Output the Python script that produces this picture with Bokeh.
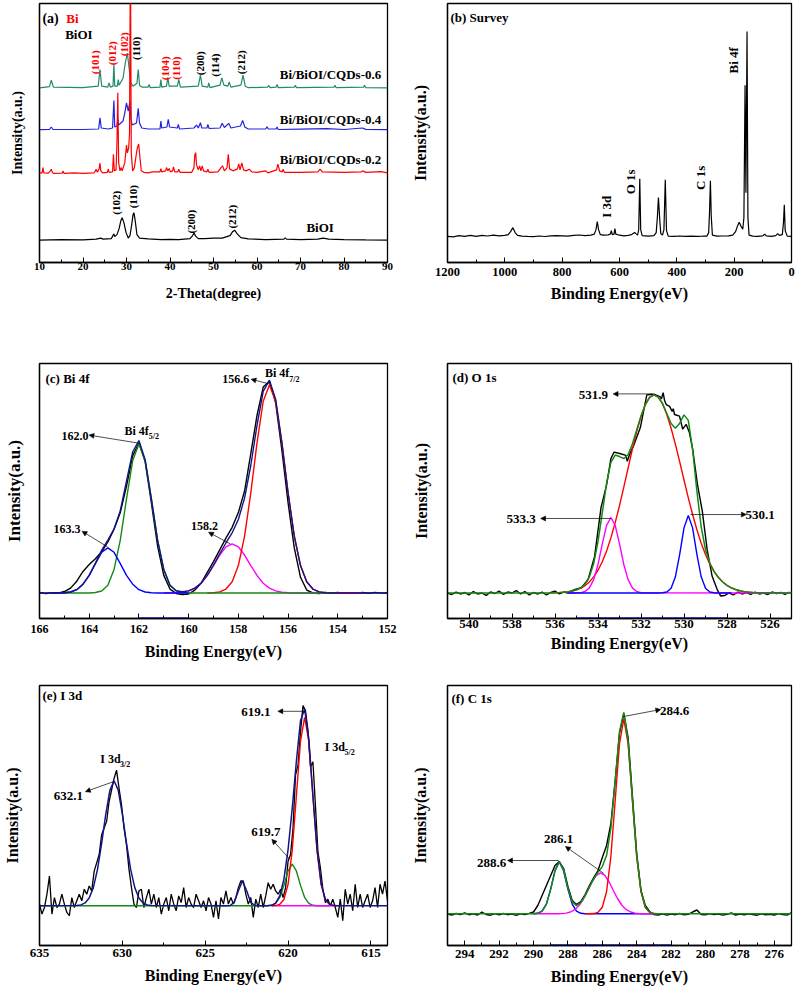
import numpy as np
from bokeh.plotting import figure
from bokeh.models import Range1d, Label, Arrow, NormalHead, SingleIntervalTicker, FixedTicker
from bokeh.layouts import gridplot
from bokeh.embed import file_html
from bokeh.resources import INLINE

FONT = "Liberation Serif"

# ---------------- (a) XRD ----------------
a_theta_bioi = [10, 15, 20, 23.0, 24.1, 24.6, 26.5, 27.1, 27.3, 27.8, 28.3, 28.7, 29.0, 29.4, 29.9, 30.4, 30.8, 31.2, 31.5, 31.7,
                32.0, 32.4, 33.0, 35, 38, 40, 42, 44.6, 45.2, 45.5, 45.9, 46.5, 48, 50, 52, 53.8, 54.4, 54.9, 55.5, 56.3,
                58, 62, 66.2, 66.5, 66.8, 70, 74, 75.2, 76.5, 80, 85, 90]
a_int_bioi = [22.5, 23, 22.8, 23.5, 24.5, 23.5, 24, 28.7, 26, 28, 34, 42, 45, 40, 30, 24.5, 27, 38, 48, 50,
              42, 28, 24.5, 23.7, 23, 23.3, 23, 24, 27, 29.7, 26.5, 24, 24, 24.5, 24.5, 27, 31, 32.3, 28.5, 25,
              23.7, 23, 23.5, 24.7, 23.5, 23, 23.5, 24.5, 23.5, 23, 22.7, 22.5]

a_theta_02 = [10.0, 10.6, 10.8, 11.0, 12.0, 12.5, 12.7, 12.9, 13.2, 15.2, 15.4, 15.6, 18, 20, 22.5, 22.8, 23.0, 23.3, 23.7, 23.9,
              24.1, 24.5, 25.6, 25.8, 26.0, 26.8, 27.0, 27.2, 27.6, 27.8, 28.0, 28.2, 28.5, 28.8, 29.0, 29.6, 30.0, 30.2, 30.5, 30.7,
              30.9, 31.1, 31.4, 31.8, 32.3, 32.5, 32.8, 33.1, 33.4, 34, 35, 36, 37.7, 37.9, 38.1, 39.0, 39.2, 39.5, 39.8, 40.1,
              40.6, 40.8, 41.1, 41.8, 42.0, 42.3, 45.0, 45.5, 45.7, 45.9, 46.1, 46.5, 46.8, 47.1, 47.4, 47.7, 48.5, 48.7, 49.0, 51.0,
              51.7, 52.1, 52.5, 53.1, 53.4, 53.7, 54.5, 55.5, 55.8, 56.1, 56.5, 56.9, 57.5, 58.2, 58.8, 60, 62.0, 62.5, 64.5, 64.8,
              65.2, 65.8, 66.0, 66.3, 70, 74.0, 74.5, 75.0, 80, 84.0, 84.3, 85, 88.5, 90]
a_int_02 = [90, 90, 95.3, 90, 89.7, 92, 93.7, 91, 89.5, 89.7, 92, 89.5, 90, 89.5, 90, 91.5, 93.7, 90.5, 94, 99.7,
            92, 90, 90.5, 93.7, 90.5, 91, 108.7, 92, 93, 120, 170.3, 100, 92, 95.3, 92, 100, 118, 110, 115, 130,
            320, 110, 92, 95, 110, 115.3, 119, 105, 92, 90.5, 90, 91, 91, 94.3, 91, 92, 95.3, 92, 94.3, 91,
            92, 96, 91, 91, 93.7, 90.5, 90.5, 95, 108, 110.3, 98, 93, 97, 92, 97, 92, 91, 93.7, 90.5, 91,
            95, 97, 92, 95, 108.7, 94, 92, 94, 99, 93, 100, 93, 92, 93.7, 91, 90.5, 92, 90, 93, 98.7,
            92, 91, 93.7, 90.5, 90.5, 91, 93.7, 91, 90.5, 91, 92, 90.5, 91.3, 90]

a_theta_04 = [10, 12.3, 12.7, 13.1, 20, 23.6, 23.9, 24.2, 25.8, 26.8, 27.1, 27.3, 27.8, 28.0, 28.2, 29.2, 29.6, 30.0, 30.4, 30.8,
              31.0, 31.3, 32.3, 32.7, 33.0, 33.5, 35, 37.7, 37.9, 38.1, 39.3, 39.6, 39.9, 41.7, 41.9, 42.2, 45.5, 46.1, 46.5, 47.0,
              47.3, 48.5, 48.7, 49.0, 51.5, 52.0, 52.5, 53.5, 54.0, 56.2, 56.7, 57.2, 58, 62.0, 62.3, 62.6, 64.4, 64.6, 64.9, 70,
              76, 80, 84.3, 85, 90]
a_int_04 = [133.3, 133.5, 136, 133.5, 133.5, 134, 145.3, 135, 134, 135, 162.7, 136, 137, 143.7, 138, 142, 150, 160.3, 152, 162,
            145, 138, 140, 154.7, 140, 135, 134, 134, 142, 135, 136, 143.7, 136, 135, 138.7, 134, 135, 138, 135, 140.3,
            135, 135, 138.7, 134.5, 135, 139.7, 135.5, 139.7, 135, 137, 142.7, 136, 134, 134, 136.3, 134, 134, 136, 133.5, 133.8,
            134.3, 133.5, 135, 133.6, 133.3]

a_theta_06 = [10, 12.3, 12.7, 13.2, 20, 23.5, 23.9, 24.3, 25.7, 26.0, 26.3, 26.9, 27.1, 27.3, 27.9, 28.1, 28.3, 29.2, 29.7, 30.2,
              30.6, 31.0, 31.5, 32.4, 32.7, 33.0, 33.5, 35.0, 35.2, 35.5, 37.7, 37.9, 38.1, 39.2, 39.5, 39.8, 41.7, 42.0, 42.4, 46.5,
              47.0, 47.4, 48.7, 48.9, 49.2, 51.5, 51.9, 52.4, 53.3, 53.6, 54.0, 56.3, 56.8, 57.3, 58, 62.4, 62.7, 63.0, 64.4, 64.6,
              64.9, 68.6, 68.8, 69.1, 77.7, 77.9, 78.2, 84.5, 84.7, 85.0, 90]
a_int_06 = [175.3, 176.5, 183, 176, 175.5, 177, 193.7, 177, 176, 180.3, 176, 177, 198.7, 177, 177, 183.7, 178, 185, 200, 210.3,
            195, 180, 177, 180, 193.7, 178, 176, 176, 178.7, 175.5, 176, 183.7, 176, 177, 186, 177, 177, 183.7, 176, 177,
            188, 177, 176, 180.3, 175.5, 178, 185.3, 178, 177, 181.3, 176, 178, 188, 177, 175.5, 176, 177.7, 175.5, 176, 178.7,
            175.5, 176, 178, 175.5, 176, 178, 175.5, 176, 178, 175.5, 175.3]

# ---------------- (b) Survey ----------------
b_be = [1200, 1180, 1160, 1140, 1120, 1100, 1080, 1060, 1040, 1020, 1000, 988, 980, 972, 964, 956, 940, 920, 900, 880,
        860, 840, 820, 800, 780, 760, 740, 720, 700, 688, 682, 677.6, 673, 667, 655, 640, 632, 628.5, 625, 619,
        616, 613, 600, 585, 570, 558, 550, 547.5, 543, 537, 533, 529.3, 526, 521, 500, 480, 472, 468, 464.2, 460,
        456, 450, 445, 440.3, 436, 430, 410, 390, 370, 350, 330, 310, 295, 289, 286, 282.9, 280, 276, 260, 240,
        220, 205, 195, 188, 182.5, 176, 170, 166, 162, 159, 155.1, 152, 148, 135, 120, 100, 93.5, 88, 70, 55,
        48, 42, 32, 28, 25.1, 22, 15, 0]
b_int = [26.3, 25.8, 26.9, 26.2, 27.2, 26.3, 27.3, 26.6, 27.5, 26.7, 27.2, 28, 31, 35, 30, 27.3, 26.5, 26.2, 26, 26.6,
         26.1, 26.7, 27, 26.8, 26.4, 27.2, 27.6, 27, 27.5, 28.5, 33, 41, 33, 28, 27.4, 27.8, 28.5, 32, 28, 28.5,
         34, 28.5, 27.4, 26.8, 27.3, 28, 29.5, 30.3, 29, 27.5, 33, 84, 33, 27, 26.5, 27, 30, 45, 65.3, 45,
         29, 27.5, 33, 83, 32, 26.5, 26.3, 26.6, 26.2, 26.5, 26.3, 26.4, 26.5, 30, 50, 82, 47, 27.5, 26.5, 26.6,
         26.8, 27.5, 31, 37, 40.3, 36.3, 33.5, 45, 178, 70, 232, 45, 27.5, 26.5, 26.3, 26.8, 28.5, 26.8, 26.3, 27,
         29, 27.2, 28, 40, 58, 32, 26.5, 26.3]

# ---------------- (c) Bi 4f ----------------
c_raw_int = [26.5, 25.5, 26.2, 25.8, 27.5, 31, 38, 48, 55, 61, 68, 78, 91, 108, 135, 166, 179, 160, 118, 74,
             44, 30, 25.5, 24.5, 25, 29, 36, 47, 58, 70, 82, 93, 108, 130, 168, 207, 236, 242, 220, 172,
             118, 72, 42, 29, 26, 25.5, 26.5, 25.8, 26.6, 25.6, 26.4, 25.7, 26.5, 25.8, 26.6, 25.9, 26.3]
c_raw_be = np.linspace(166, 152, len(c_raw_int))
c_env_be = [166, 165.5, 165.25, 165.0, 164.75, 164.5, 164.25, 164.0, 163.75, 163.5, 163.25, 163.0, 162.75, 162.5, 162.25, 162.0,
            161.75, 161.5, 161.25, 161.0, 160.75, 160.5, 160.25, 160.0, 159.75, 159.5, 159.25, 159.0, 158.75, 158.5, 158.25,
            158.0, 157.75, 157.5, 157.25, 157.0, 156.75, 156.5, 156.25, 156.0, 155.75, 155.5, 155.25, 155.0, 154.75, 154.5,
            154.25, 152]
c_env_int = [26, 26, 26, 26.3, 27, 29.4, 35, 44, 56.5, 69.5, 80, 91.5, 110, 140, 170, 181.4,
             162, 122.3, 80, 50, 34, 28.3, 27.3, 28.2, 31, 36, 44, 54.3, 66, 77, 87.4,
             101, 122.7, 156, 197, 231.5, 243, 223.7, 179.8, 128.3, 84, 54, 37.4, 30, 27.2, 26.3,
             26, 26]
c_g_be = [165.5, 164.0, 163.75, 163.5, 163.25, 163.0, 162.75, 162.5, 162.25, 162.0, 161.75, 161.5, 161.25, 161.0, 160.75, 160.5, 160.25, 160.0, 154.0]
c_g_int = [26, 26, 26.5, 28, 34, 50, 80, 122, 161, 178, 161, 122, 80, 50, 34, 28, 26.5, 26, 26]
c_b_be = [165.5, 165.25, 165.0, 164.75, 164.5, 164.25, 164.0, 163.75, 163.5, 163.25, 163.0, 162.75, 162.5, 162.25, 162.0, 161.75, 161.5, 161.25, 160.0]
c_b_int = [26, 26, 26.3, 27, 29.4, 35, 44, 56, 67.5, 72, 67.5, 56, 44, 35, 29.4, 27, 26.3, 26, 26]
c_m_be = [161.0, 160.5, 160.25, 160.0, 159.75, 159.5, 159.25, 159.0, 158.75, 158.5, 158.25, 158.0, 157.75, 157.5, 157.25, 157.0, 156.75, 156.5, 156.25, 156.0, 155.75, 153.0]
c_m_int = [26, 26.3, 26.8, 28.2, 31, 36, 44, 54, 64.7, 73, 76, 73, 64.7, 54, 44, 36, 31, 28.2, 26.8, 26.3, 26, 26]
c_r_be = [159.25, 159.0, 158.75, 158.5, 158.25, 158.0, 157.75, 157.5, 157.25, 157.0, 156.75, 156.5, 156.25, 156.0, 155.75, 155.5, 155.25, 155.0, 154.75, 154.5, 154.25, 153.0]
c_r_int = [26, 26.3, 27.2, 30, 37.4, 54, 84, 128, 179, 221.5, 238, 221.5, 179, 128, 84, 54, 37.4, 30, 27.2, 26.3, 26, 26]
c_bg_be = [162, 160]
c_bg_int = [0.6, 0.6]

# ---------------- (d) O 1s ----------------
d_raw_be = [541.0, 540.8, 540.6, 540.4, 540.2, 540.0, 539.8, 539.6, 539.4, 539.2, 539.0, 538.8, 538.6, 538.4, 538.2, 538.0, 537.8, 537.6, 537.4, 537.2,
            537.0, 536.8, 536.6, 536.4, 536.2, 536.0, 535.8, 535.6, 535.4, 535.2, 535.07, 534.77, 534.46, 534.16, 533.86, 533.6, 533.4, 533.25, 532.95, 532.7,
            532.64, 532.5, 532.34, 532.03, 531.73, 531.4, 531.12, 531.05, 530.97, 530.9, 530.82, 530.67, 530.55, 530.5, 530.44, 530.21, 530.06, 529.9, 529.75, 529.6,
            529.37, 529.15, 528.92, 528.69, 528.46, 528.3, 528.1, 527.9, 527.7, 527.5, 527.3, 527.1, 526.9, 526.7, 526.5, 526.3, 526.1, 525.9, 525.7, 525.5,
            525.3, 525.1]
d_raw_int = [26, 24.5, 27, 25, 26.5, 24, 27.5, 25, 26, 23.5, 27, 25.5, 28, 24.5, 27, 26, 28.5, 25, 27.5, 24,
             26.5, 25, 27, 24, 26.5, 28, 25, 27, 26, 28.5, 29.7, 31.3, 39.7, 63, 113, 136.3, 163, 169.7, 168, 166.3,
             160.3, 169, 176.3, 194.7, 228, 228.7, 226.3, 224, 230.3, 222, 218, 216.3, 211, 214, 208, 206.3, 193, 198, 189.7, 173,
             136.3, 109.7, 69.7, 43, 29.7, 23, 23.5, 26, 24, 27, 25, 26.5, 24.5, 27, 25, 26, 24.5, 27, 25.5, 26.5,
             24.5, 27]
d_fit_be = [541, 536.4, 536.2, 536.0, 535.8, 535.6, 535.4, 535.2, 535.0, 534.8, 534.6, 534.4, 534.2, 534.0, 533.8, 533.6, 533.4, 533.2, 533.0, 532.8,
            532.6, 532.4, 532.2, 532.0, 531.8, 531.6, 531.4, 531.2, 531.0, 530.8, 530.6, 530.4, 530.2, 530.0, 529.8, 529.6, 529.4, 529.2, 529.0, 528.8,
            528.6, 528.4, 528.2, 528.0, 527.8, 527.6, 527.4, 527.2, 527.0, 526.8, 526.6, 526.4, 525]
d_fit_int = [26, 26, 26.1, 26.2, 26.4, 26.7, 27.2, 28, 29.3, 31.4, 35.2, 42.5, 56, 78.3, 107.9, 137.9, 159.2, 166.7, 165.1, 163,
             167, 177.9, 192.2, 206.4, 218, 225.4, 228, 225.7, 219.2, 209, 198.9, 194.1, 199.1, 207.6, 202, 172.4, 129.9, 93.3, 70.1, 56.6,
             48, 41.8, 37.2, 33.8, 31.3, 29.5, 28.3, 27.4, 26.9, 26.5, 26.3, 26.15, 26]
d_r_be = [536.2, 536.0, 535.8, 535.6, 535.4, 535.2, 535.0, 534.8, 534.6, 534.4, 534.2, 534.0, 533.8, 533.6, 533.4, 533.2, 533.0, 532.8, 532.6, 532.4,
          532.2, 532.0, 531.8, 531.6, 531.4, 531.2, 531.0, 530.8, 530.6, 530.4, 530.2, 530.0, 529.8, 529.6, 529.4, 529.2, 529.0, 528.8, 528.6, 528.4,
          528.2, 528.0, 527.8, 527.6, 527.4, 527.2, 527.0, 526.8, 526.6, 526.4]
d_r_int = [26.1, 26.2, 26.4, 26.7, 27.2, 28, 29.2, 31, 33.6, 37.3, 42.4, 49.2, 57.9, 68.9, 82.2, 97.7, 115.1, 133.9, 153.4, 172.7,
           190.6, 206, 218, 225.4, 228, 225.7, 219, 208, 194, 177.6, 159.7, 141.2, 123, 106, 90.5, 76.8, 65.2, 55.6, 47.8, 41.8,
           37.2, 33.8, 31.3, 29.5, 28.3, 27.4, 26.9, 26.5, 26.3, 26.15]
d_m_be = [535.4, 535.0, 534.8, 534.6, 534.4, 534.2, 534.0, 533.8, 533.6, 533.4, 533.2, 533.0, 532.8, 532.6, 532.4, 532.2, 532.0, 531.8, 525]
d_m_int = [26, 26.1, 26.4, 27.6, 31.2, 39.6, 55.1, 76, 95, 103, 95, 76, 55.1, 39.6, 31.2, 27.6, 26.4, 26.1, 26]
d_b_be = [535.4, 531.2, 531.0, 530.8, 530.6, 530.4, 530.2, 530.0, 529.8, 529.6, 529.4, 529.2, 529.0, 528.8, 528.6, 528.4, 527.8]
d_b_int = [26, 26, 26.2, 27, 30.9, 42.5, 65.4, 92.4, 105, 92.4, 65.4, 42.5, 30.9, 27, 26.2, 26, 26]
d_bg_be = [535, 528]
d_bg_int = [0.6, 0.6]

# ---------------- (e) I 3d ----------------
e_raw_int = [41.7, 31.7, 38.3, 51.7, 70, 31.7, 48.3, 38.3, 41.7, 51.7,
             41.7, 33.3, 30, 48.3, 38.3, 45, 51.7, 45, 56.7, 51.7,
             60, 55, 75, 83.3, 91.7, 111.7, 118.3, 125, 145, 156.7,
             168.3, 176.7, 158.3, 141.7, 118.3, 101.7, 76.7, 58.3, 41.7, 38.3,
             55, 56.7, 38.3, 48.3, 56.7, 41.7, 51.7, 38.3, 48.3, 31.7,
             41.7, 48.3, 35, 51.7, 41.7, 35, 50, 43.3, 58.3, 38.3,
             48.3, 41.7, 38.3, 51.7, 45, 38.3, 45, 35, 48.3, 41.7,
             28.3, 45, 26.7, 48.3, 41.7, 55, 41.7, 48.3, 41.7, 48.3,
             58.3, 65, 65, 51.7, 41.7, 48.3, 28.3, 46.7, 38.3, 51.7,
             38.3, 50, 63.3, 56.7, 61.7, 55, 51.7, 56.7, 48.3, 58.3,
             85, 91.7, 118.3, 171.7, 181.7, 215, 241.7, 236.7, 216.7, 180,
             185, 141.7, 95, 78.3, 56.7, 43.3, 46.7, 40, 46.7, 38.3,
             28.3, 46.7, 25, 56.7, 41.7, 51.7, 35, 61.7, 38.3, 51.7,
             38.3, 45, 51.7, 38.3, 45, 58.3, 38.3, 61.7, 51.7, 65,
             45]
e_raw_be = np.linspace(635, 614, len(e_raw_int))
e_env_be = [635, 632.75, 632.5, 632.25, 632.0, 631.75, 631.5, 631.25, 631.0, 630.75, 630.5, 630.25, 630.0, 629.75, 629.5, 629.25, 629.0, 628.75, 628.5, 628.25,
            623.75, 623.5, 623.25, 623.0, 622.75, 622.5, 622.25, 622.0, 621.75, 621.5, 621.25, 621.0, 620.75, 620.5, 620.25, 620.0, 619.75, 619.5, 619.25, 619.0,
            618.75, 618.5, 618.25, 618.0, 617.75, 617.5, 617.25, 617.0, 614]
e_env_int = [40, 40.2, 40.9, 42.9, 47.8, 58.3, 76.7, 103, 132.5, 156.6, 166, 156.6, 132.5, 103, 76.7, 58.3, 47.8, 42.9, 40.9, 40.2,
             40, 40.3, 43.4, 55.2, 65, 55.2, 43.4, 40.3, 40, 40, 40.1, 40.5, 42.6, 49.9, 66.9, 96.7, 137.9, 185.5, 226.4, 238.4,
             208.2, 150.9, 96, 61.6, 46.3, 41.5, 40.2, 40, 40]
e_r_be = [621.0, 620.75, 620.5, 620.25, 620.0, 619.75, 619.5, 619.25, 619.0, 618.75, 618.5, 618.25, 618.0, 617.75, 617.5, 617.25, 617.0]
e_r_int = [40, 40.2, 41.5, 46.3, 61.6, 95.9, 150.4, 205.8, 230, 205.8, 150.4, 95.9, 61.6, 46.3, 41.5, 40.2, 40]
e_g_be = [635, 621.5, 621.25, 621.0, 620.75, 620.5, 620.25, 620.0, 619.75, 619.5, 619.25, 619.0, 618.75, 618.5, 618.25, 618.0, 617.5]
e_g_int = [40, 40, 40.1, 40.5, 42.4, 48.4, 60.6, 75.1, 82, 75.1, 60.6, 48.4, 42.4, 40.5, 40.1, 40, 40]
e_m_be = [621.0, 617.2]
e_m_int = [40, 40]

# ---------------- (f) C 1s ----------------
f_raw_int = [31.5, 30.5, 32, 31, 32.5, 30.8, 31.7, 30.5, 33.5, 31,
             30.3, 31.8, 30.6, 32, 30.8, 31.4, 30.2, 31.8, 31, 32.2,
             33.5, 40, 50, 60, 70, 80, 84, 77, 59, 45,
             41, 44, 51, 60, 68, 75, 88, 100, 122, 165,
             212, 232, 208, 150, 92, 55, 40, 34, 31, 30.5,
             31.6, 30.4, 31.5, 30.8, 32, 30.6, 31.2, 33.5, 35.5, 31,
             30.6, 31.8, 30.9, 31.5, 30.4, 31.2, 32.5, 30.5, 31.5, 30.7,
             31.8, 31, 30.3, 31.6, 30.8, 31.3, 30.5, 31.8, 31, 30.4,
             33]
f_raw_be = np.linspace(295, 275, len(f_raw_int))
f_env_be = [295, 290.5, 290.25, 290.0, 289.75, 289.5, 289.25, 289.0, 288.75, 288.5, 288.25, 288.0, 287.75, 287.5, 287.25, 287.0, 286.75, 286.5, 286.25, 286.0,
            285.75, 285.5, 285.25, 285.0, 284.75, 284.5, 284.25, 284.0, 283.75, 283.5, 283.25, 283.0, 282.75, 275]
f_env_int = [31.7, 31.7, 31.7, 31.8, 32.2, 34.4, 41.4, 56.4, 74.9, 83.8, 75.3, 57.4, 43.9, 39.9, 42.8, 49.7, 58.3, 66.75, 73.3, 78.9,
             90.2, 117.6, 164.7, 213.8, 233.1, 204.9, 146.35, 89.65, 54.15, 38.3, 33.2, 31.95, 31.7, 31.7]
f_r_be = [287.0, 286.75, 286.5, 286.25, 286.0, 285.75, 285.5, 285.25, 285.0, 284.75, 284.5, 284.25, 284.0, 283.75, 283.5, 283.25, 283.0, 282.75]
f_r_int = [31.7, 31.7, 31.95, 33.2, 38.3, 54, 89.2, 145.1, 201.9, 226.7, 201.9, 145.1, 89.2, 54, 38.3, 33.2, 31.95, 31.7]
f_m_be = [290.0, 288.6, 288.35, 288.1, 287.85, 287.6, 287.35, 287.1, 286.85, 286.6, 286.35, 286.1, 285.85, 285.6, 285.35, 285.1, 284.85, 284.6, 284.35, 284.1, 283.85, 283.6, 282.8]
f_m_int = [31.7, 31.75, 31.9, 32.4, 33.5, 35.8, 40, 46.5, 54.8, 63.5, 70.2, 72.7, 70.2, 63.5, 54.8, 46.5, 40, 35.8, 33.5, 32.4, 31.9, 31.75, 31.7]
f_b_be = [290.0, 289.75, 289.5, 289.25, 289.0, 288.75, 288.5, 288.25, 288.0, 287.75, 287.5, 287.25, 287.0, 283.0]
f_b_int = [31.8, 32.2, 34.4, 41.4, 56.4, 74.9, 83.7, 74.9, 56.4, 41.4, 34.4, 32.2, 31.8, 31.7]
f_bg_be = [289, 282]
f_bg_int = [0.6, 0.6]

RED = "#ff0000"; GREEN = "#138a13"; BLUE = "#0000ff"; NAVY = "#14148a"; MAG = "#ff00ff"


def base_fig(w, h, bl, br, bt, bb, xr, yr):
    p = figure(width=w, height=h, x_range=Range1d(xr[0], xr[1]), y_range=Range1d(yr[0], yr[1]),
               min_border_left=bl, min_border_right=br, min_border_top=bt, min_border_bottom=bb,
               output_backend="svg", toolbar_location=None)
    p.xgrid.visible = False
    p.ygrid.visible = False
    p.outline_line_color = "black"
    p.outline_line_width = 1.3
    p.outline_line_alpha = 1.0
    p.background_fill_color = "white"
    p.border_fill_color = "white"
    return p


def style_axes(p, interval, tick_size, tick_standoff, xlabel, xlabel_size, xlabel_standoff, ylabel_size, ylabel_standoff):
    xa = p.xaxis[0]
    xa.ticker = SingleIntervalTicker(interval=interval, num_minor_ticks=2)
    xa.major_tick_in = 5
    xa.major_tick_out = 0
    xa.minor_tick_in = 3
    xa.minor_tick_out = 0
    xa.major_tick_line_color = "black"
    xa.minor_tick_line_color = "black"
    xa.axis_line_color = "black"
    xa.axis_line_width = 1.3
    xa.major_label_text_font = FONT
    xa.major_label_text_font_style = "bold"
    xa.major_label_text_font_size = f"{tick_size}px"
    xa.major_label_text_color = "black"
    xa.major_label_standoff = tick_standoff
    xa.axis_label = xlabel
    xa.axis_label_text_font = FONT
    xa.axis_label_text_font_style = "bold"
    xa.axis_label_text_font_size = f"{xlabel_size}px"
    xa.axis_label_text_color = "black"
    xa.axis_label_standoff = xlabel_standoff
    ya = p.yaxis[0]
    ya.ticker = FixedTicker(ticks=[])
    ya.major_tick_in = 0
    ya.major_tick_out = 0
    ya.minor_tick_in = 0
    ya.minor_tick_out = 0
    ya.major_label_standoff = 0
    ya.axis_line_color = "black"
    ya.axis_line_width = 1.3
    ya.axis_label = "Intensity(a.u.)"
    ya.axis_label_text_font = FONT
    ya.axis_label_text_font_style = "bold"
    ya.axis_label_text_font_size = f"{ylabel_size}px"
    ya.axis_label_text_color = "black"
    ya.axis_label_standoff = ylabel_standoff


def txt(p, x, y, text, size, color="black", align="left", angle=0.0, baseline="middle"):
    p.add_layout(Label(x=x, y=y, text=text, text_font=FONT, text_font_size=f"{size}px",
                       text_font_style="bold", text_color=color, text_align=align,
                       text_baseline=baseline, angle=angle))


def arrow(p, x0, y0, x1, y1):
    p.add_layout(Arrow(end=NormalHead(size=5, fill_color="black", line_color="black", line_width=0.5),
                       x_start=x0, y_start=y0, x_end=x1, y_end=y1, line_color="black", line_width=0.7))


ROT = np.pi / 2

# ---------- (a) ----------
pa = base_fig(400, 310, 35, 13, 2, 48, (10, 90), (0, 260))
style_axes(pa, 10, 11, 0, "2-Theta(degree)", 14, 13, 14, 15)
pa.line(a_theta_bioi, a_int_bioi, line_color="black", line_width=1.2)
pa.line(a_theta_06, a_int_06, line_color="#23896b", line_width=1.2)
pa.line(a_theta_04, a_int_04, line_color="#2222dd", line_width=1.2)
pa.line(a_theta_02, a_int_02, line_color=RED, line_width=1.2)
txt(pa, 10.68, 245, "(a)", 14)
txt(pa, 16.14, 245, "Bi", 13, color=RED)
txt(pa, 15.9, 229, "BiOI", 13)
for (x, y, t) in [(22.73, 201, "(101)"), (26.59, 210, "(012)"), (29.32, 219, "(102)"), (38.86, 195, "(104)"), (41.36, 195, "(110)")]:
    txt(pa, x, y, t, 11, color=RED, align="center", angle=ROT)
for (x, y, t) in [(32.27, 215, "(110)"), (46.82, 200, "(200)"), (50.45, 198, "(114)"), (56.36, 201, "(212)"),
                  (27.5, 60, "(102)"), (31.59, 66, "(110)"), (44.77, 41, "(200)"), (54.32, 46, "(212)")]:
    txt(pa, x, y, t, 11, align="center", angle=ROT)
txt(pa, 65.23, 189, "Bi/BiOI/CQDs-0.6", 13)
txt(pa, 65.23, 144, "Bi/BiOI/CQDs-0.4", 13)
txt(pa, 65.23, 103, "Bi/BiOI/CQDs-0.2", 13)
txt(pa, 71.36, 35, "BiOI", 13)

# ---------- (b) ----------
pb = base_fig(402, 310, 47, 5, 3, 47, (1200, 0), (0, 260))
style_axes(pb, 200, 12.5, 5, "Binding Energy(eV)", 16, 6, 16, 19)
pb.line(b_be, b_int, line_color="black", line_width=1.2)
txt(pb, 1189.7, 246, "(b) Survey", 13)
txt(pb, 644.6, 56, "I 3d", 13, align="center", angle=ROT)
txt(pb, 562.3, 81, "O 1s", 13, align="center", angle=ROT)
txt(pb, 318.9, 85, "C 1s", 13, align="center", angle=ROT)
txt(pb, 202.3, 203, "Bi 4f", 13, align="center", angle=ROT)

# ---------- (c) ----------
pc = base_fig(400, 358, 37, 11, 48, 50, (166, 152), (0, 260))
style_axes(pc, 2, 12, 6, "Binding Energy(eV)", 16, 7, 17, 16)
pc.line(c_raw_be, c_raw_int, line_color="black", line_width=1.4)
pc.line(c_m_be, c_m_int, line_color=MAG, line_width=1.4)
pc.line(c_r_be, c_r_int, line_color=RED, line_width=1.4)
pc.line(c_g_be, c_g_int, line_color=GREEN, line_width=1.4)
pc.line(c_b_be, c_b_int, line_color=BLUE, line_width=1.4)
pc.line(c_env_be, c_env_int, line_color=NAVY, line_width=1.4)
pc.line(c_bg_be, c_bg_int, line_color=BLUE, line_width=1)
txt(pc, 165.76, 245, "(c) Bi 4f", 13)
txt(pc, 164.57, 186, "162.0", 12, align="center")
arrow(pc, 162.06, 179, 164.01, 187)
txt(pc, 162.58, 191, "Bi 4f", 12)
txt(pc, 161.60, 186, "5/2", 8)
txt(pc, 158.1, 244, "156.6", 12, align="center")
arrow(pc, 156.73, 239, 157.49, 244)
txt(pc, 156.93, 250, "Bi 4f", 12)
txt(pc, 155.95, 244, "7/2", 8)
txt(pc, 164.89, 91, "163.3", 12, align="center")
arrow(pc, 163.26, 73, 164.29, 89)
txt(pc, 159.36, 94, "158.2", 12, align="center")
arrow(pc, 158.32, 76, 159.2, 88)

# ---------- (d) ----------
pd_ = base_fig(402, 358, 43, 8, 53, 45, (541, 525), (0, 260))
style_axes(pd_, 2, 13, 1, "Binding Energy(eV)", 16, 4, 16, 18)
pd_.line(d_raw_be, d_raw_int, line_color="black", line_width=1.4)
pd_.line(d_r_be, d_r_int, line_color=RED, line_width=1.4)
pd_.line(d_m_be, d_m_int, line_color=MAG, line_width=1.4)
pd_.line(d_b_be, d_b_int, line_color=BLUE, line_width=1.4)
pd_.line(d_fit_be, d_fit_int, line_color=GREEN, line_width=1.5)
pd_.line(d_bg_be, d_bg_int, line_color=BLUE, line_width=1)
txt(pd_, 540.77, 246, "(d) O 1s", 13)
txt(pd_, 534.21, 228, "531.9", 13, align="center")
arrow(pd_, 531.47, 229, 533.3, 229)
txt(pd_, 537.58, 101, "533.3", 13, align="center")
arrow(pd_, 533.39, 102, 536.67, 102)
txt(pd_, 526.46, 106, "530.1", 13, align="center")
arrow(pd_, 529.7, 106, 527.1, 106)

# ---------- (e) ----------
pe = base_fig(400, 324, 39, 12, 15, 47, (635, 614), (0, 262))
style_axes(pe, 5, 13, 3, "Binding Energy(eV)", 16, 7, 16, 19)
pe.line(e_raw_be, e_raw_int, line_color="black", line_width=1.3)
pe.line(e_g_be, e_g_int, line_color=GREEN, line_width=1.4)
pe.line(e_m_be, e_m_int, line_color=MAG, line_width=1.4)
pe.line(e_r_be, e_r_int, line_color=RED, line_width=1.4)
pe.line(e_env_be, e_env_int, line_color=NAVY, line_width=1.5)
txt(pe, 634.82, 252, "(e) I 3d", 13)
txt(pe, 621.94, 235, "619.1", 13, align="center")
arrow(pe, 619.0, 236, 620.62, 236)
txt(pe, 617.79, 200, "I 3d", 12)
txt(pe, 616.60, 194, "5/2", 8)
txt(pe, 631.33, 188, "I 3d", 12)
txt(pe, 630.14, 182, "3/2", 8)
txt(pe, 633.26, 151, "632.1", 13, align="center")
arrow(pe, 630.55, 165, 632.23, 155)
txt(pe, 621.34, 114, "619.7", 13, align="center")
arrow(pe, 619.9, 87, 620.98, 107)

# ---------- (f) ----------
pf = base_fig(402, 324, 41, 11, 17, 47, (295, 275), (0, 260))
style_axes(pf, 2, 13, 4, "Binding Energy(eV)", 16, 7, 16, 19)
pf.line(f_raw_be, f_raw_int, line_color="black", line_width=1.4)
pf.line(f_b_be, f_b_int, line_color=BLUE, line_width=1.4)
pf.line(f_m_be, f_m_int, line_color=MAG, line_width=1.4)
pf.line(f_r_be, f_r_int, line_color=RED, line_width=1.4)
pf.line(f_env_be, f_env_int, line_color=GREEN, line_width=1.5)
pf.line(f_bg_be, f_bg_int, line_color=BLUE, line_width=1)
txt(pf, 294.77, 247, "(f) C 1s", 13)
txt(pf, 281.8, 235, "284.6", 13, align="center")
arrow(pf, 284.77, 229, 282.6, 236)
txt(pf, 288.54, 107, "286.1", 13, align="center")
arrow(pf, 285.91, 72, 288.14, 99)
txt(pf, 292.43, 83, "288.6", 13, align="center")
arrow(pf, 288.54, 85, 291.51, 85)

grid = gridplot([[pa, pb], [pc, pd_], [pe, pf]], toolbar_location=None)
html = file_html(grid, INLINE, title="Bi/BiOI/CQDs XRD and XPS")
html = html.replace("<head>", "<head><style>html,body{margin:0;padding:0;}</style>", 1)
open("out.html", "w").write(html)
